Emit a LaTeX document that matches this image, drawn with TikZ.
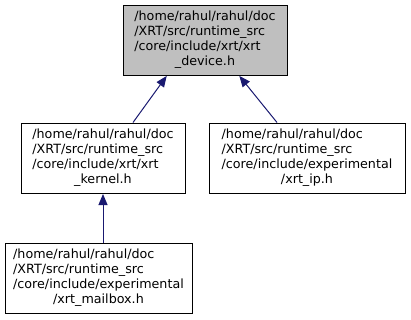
\documentclass[tikz,border=0pt]{standalone}
\usepackage{fontspec}
\setmainfont{DejaVu Sans}
\usetikzlibrary{arrows.meta}
\definecolor{edgeblue}{HTML}{191970}
\definecolor{rootfill}{HTML}{BFBFBF}
% file label: left-justified path lines, last line centred
\newcommand{\flabel}[4]{\begin{tabular}{@{}l@{}}#1\\#2\\#3\\\multicolumn{1}{@{}c@{}}{#4}\end{tabular}}
\tikzset{
  filebox/.style={draw=black, line width=1pt, inner sep=0pt,
    minimum height=70pt, font=\fontsize{12.7pt}{15pt}\selectfont},
  rootbox/.style={filebox, fill=rootfill},
  incl/.style={draw=edgeblue, line width=1pt,
    -{Triangle[length=11pt,width=9pt]}, shorten >=0.5pt}
}
\begin{document}
\begin{tikzpicture}[x=1pt,y=-1pt]
  \useasboundingbox (0,0) rectangle (411,319);
  \node[rootbox, minimum width=164pt] (dev) at (205,40)
    {\flabel{/home/rahul/rahul/doc}{/XRT/src/runtime\_src}{/core/include/xrt/xrt}{\_device.h}};
  \node[filebox, minimum width=164pt] (kern) at (103,158)
    {\flabel{/home/rahul/rahul/doc}{/XRT/src/runtime\_src}{/core/include/xrt/xrt}{\_kernel.h}};
  \node[filebox, minimum width=196pt] (ip) at (307,158)
    {\flabel{/home/rahul/rahul/doc}{/XRT/src/runtime\_src}{/core/include/experimental}{/xrt\_ip.h}};
  \node[filebox, minimum width=187pt] (mbox) at (98.5,278)
    {\flabel{/home/rahul/rahul/doc}{/XRT/src/runtime\_src}{/core/include/experimental}{/xrt\_mailbox.h}};
  \draw[incl] ([xshift=30pt]kern.north) -- ([xshift=-38pt]dev.south);
  \draw[incl] ([xshift=-30pt]ip.north) -- ([xshift=34pt]dev.south);
  \draw[incl] (mbox.north -| kern.south) -- (kern.south);
\end{tikzpicture}
\end{document}
